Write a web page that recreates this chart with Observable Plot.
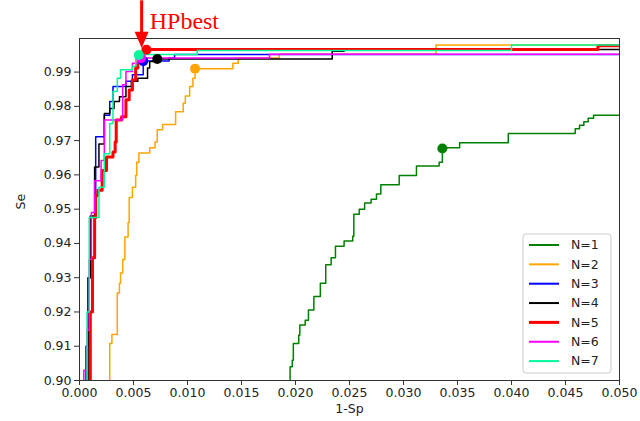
<!DOCTYPE html>
<html>
<head>
<meta charset="utf-8">
<script src="https://cdn.jsdelivr.net/npm/d3@7"></script>
<script src="https://cdn.jsdelivr.net/npm/@observablehq/plot@0.6"></script>
<style>
  html, body { margin: 0; padding: 0; background: white; }
  #chart { width: 640px; height: 421px; }
</style>
</head>
<body>
<div id="chart"></div>
<script>
// ---- Data ----
const seriesNames = ["N=1", "N=2", "N=3", "N=4", "N=5", "N=6", "N=7"];
const seriesColors = ["green", "orange", "blue", "black", "red", "magenta", "mediumspringgreen"];
const seriesWidths = [1.5, 1.5, 1.5, 1.5, 3, 1.5, 1.5];

const fprN1 = [0.0193,0.0195,0.0197,0.0198,0.0203,0.0204,0.0209,0.0212,0.0217,0.0223,0.0228,0.0233,0.0237,0.0245,0.0253,0.0254,0.0259,0.0264,0.0270,0.0275,0.0279,0.0296,0.0312,0.0333,0.0336,0.0352,0.0397,0.0459,0.0463,0.0467,0.0471,0.0476,0.0500];
const seN1  = [0.899,0.9040,0.9059,0.9108,0.9132,0.9162,0.9176,0.9206,0.9245,0.9284,0.9338,0.9358,0.9392,0.9407,0.9421,0.9485,0.9500,0.9518,0.9529,0.9544,0.9571,0.9598,0.9626,0.9637,0.9679,0.9694,0.9721,0.9735,0.9745,0.9755,0.9765,0.9774,0.9774];

const fprN2 = [0.0028,0.0028,0.0030,0.0035,0.0037,0.0038,0.0040,0.0042,0.0045,0.0046,0.0049,0.0052,0.0053,0.0055,0.0065,0.0070,0.0072,0.0077,0.0089,0.0096,0.0098,0.0102,0.0105,0.0107,0.0142,0.0147,0.0185,0.0330,0.0500];
const seN2  = [0.899,0.9108,0.9134,0.9255,0.9284,0.9314,0.9353,0.9419,0.9461,0.9534,0.9564,0.9598,0.9637,0.9664,0.9679,0.9696,0.9732,0.9747,0.9784,0.9809,0.9830,0.9858,0.9882,0.9910,0.9926,0.9941,0.9952,0.9979,0.9979];

const fprN3 = [0.0005,0.0006,0.0008,0.0010,0.0015,0.0023,0.0028,0.0031,0.0043,0.0049,0.0059,0.0083,0.0088,0.0500];
const seN3  = [0.899,0.9100,0.9300,0.9476,0.9711,0.9774,0.9814,0.9858,0.9873,0.9892,0.9932,0.9941,0.9951,0.9951];

const fprN4 = [0.0007,0.0008,0.0010,0.0014,0.0018,0.0023,0.0028,0.0032,0.0037,0.0043,0.0048,0.0054,0.0063,0.0065,0.0072,0.0234,0.0245,0.0500];
const seN4  = [0.899,0.9300,0.9480,0.9623,0.9690,0.9779,0.9794,0.9814,0.9828,0.9858,0.9873,0.9882,0.9912,0.9931,0.9938,0.9961,0.9966,0.9966];

const fprN5 = [0.0010,0.0010,0.0012,0.0014,0.0015,0.0017,0.0021,0.0025,0.0031,0.0033,0.0034,0.0039,0.0043,0.0046,0.0049,0.0052,0.0054,0.0056,0.0060,0.0480,0.0500];
const seN5  = [0.899,0.9200,0.9358,0.9475,0.9540,0.9555,0.9613,0.9652,0.9667,0.9696,0.9760,0.9770,0.9819,0.9848,0.9877,0.9912,0.9931,0.9951,0.9966,0.9977,0.9977];

const fprN6 = [0.0004,0.0004,0.0007,0.0009,0.0011,0.0014,0.0020,0.0023,0.0040,0.0043,0.0049,0.0054,0.0058,0.0176,0.0500];
const seN6  = [0.899,0.9030,0.9147,0.9353,0.9490,0.9583,0.9642,0.9760,0.9863,0.9902,0.9926,0.9936,0.9941,0.9952,0.9952];

const fprN7 = [0.0007,0.0007,0.0009,0.0018,0.0023,0.0028,0.0031,0.0035,0.0038,0.0049,0.0052,0.0055,0.0109,0.0400,0.0500];
const seN7  = [0.899,0.9200,0.9476,0.9564,0.9662,0.9750,0.9843,0.9882,0.9907,0.9917,0.9946,0.9951,0.9963,0.9979,0.9979];

const bestFpr = [0.0336,0.0107,0.0059,0.0072,0.0062,0.0057,0.0055];
const bestSe  = [0.9677,0.9910,0.9932,0.9938,0.9965,0.9941,0.9950];

const xTicks = [0,0.005,0.01,0.015,0.02,0.025,0.03,0.035,0.04,0.045,0.05];
const yTicks = [0.90,0.91,0.92,0.93,0.94,0.95,0.96,0.97,0.98,0.99];

const annotText = "HPbest";
const annotX = 0.0065, annotY = 1.0026;           // text baseline position (data units)
const arrowX = 0.0058, arrowTop = 1.0108, arrowBase = 1.0016, arrowTip = 0.9969;

// ---- Build tables ----
const fprAll = [fprN1, fprN2, fprN3, fprN4, fprN5, fprN6, fprN7];
const seAll  = [seN1, seN2, seN3, seN4, seN5, seN6, seN7];
const rows = [];
seriesNames.forEach((name, i) => {
  fprAll[i].forEach((f, j) => rows.push({series: name, fpr: f, se: seAll[i][j]}));
});
const best = seriesNames.map((name, i) => ({series: name, fpr: bestFpr[i], se: bestSe[i]}));
const colorOf = Object.fromEntries(seriesNames.map((n, i) => [n, seriesColors[i]]));

const lineMarks = seriesNames.map((name, i) =>
  Plot.line(rows.filter(d => d.series === name), {
    x: "fpr", y: "se", curve: "step-after",
    stroke: seriesColors[i], strokeWidth: seriesWidths[i], clip: true
  })
);

const plot = Plot.plot({
  width: 640, height: 421,
  marginLeft: 79, marginRight: 21, marginTop: 38, marginBottom: 41,
  style: {fontFamily: "'DejaVu Sans', sans-serif", fontSize: "12.5px", color: "#222", background: "white", overflow: "visible"},
  x: {domain: [0, 0.05], label: null},
  y: {domain: [0.9, 0.9998], label: null},
  marks: [
    Plot.axisX({ticks: xTicks, tickFormat: d3.format(".3f"), tickSize: 5, tickPadding: 3, label: null, stroke: "#333"}),
    Plot.axisY({ticks: yTicks, tickFormat: d3.format(".2f"), tickSize: 5, tickPadding: 3, label: null, stroke: "#333"}),
    ...lineMarks,
    Plot.dot(best, {x: "fpr", y: "se", fill: d => colorOf[d.series], r: 5, stroke: "none"}),
    Plot.frame({stroke: "#333", strokeWidth: 1}),
    Plot.text([annotText], {x: () => annotX, y: () => annotY, text: d => d, textAnchor: "start", lineAnchor: "bottom",
      fill: "red", fontSize: 24, fontFamily: "'Liberation Serif', 'Times New Roman', serif"}),
    Plot.text(["1-Sp"], {frameAnchor: "bottom", dy: 32, text: d => d, fill: "#222"}),
    Plot.text(["Se"], {frameAnchor: "left", dx: -59, rotate: -90, text: d => d, fill: "#222"})
  ]
});

document.getElementById("chart").appendChild(plot);

// ---- Arrow annotation and legend drawn with the plot's scales ----
const sx = plot.scale("x"), sy = plot.scale("y");
const svg = d3.select(plot);
const ax = sx.apply(arrowX);
svg.append("line")
  .attr("x1", ax).attr("x2", ax)
  .attr("y1", sy.apply(arrowTop)).attr("y2", sy.apply(arrowBase) + 2)
  .attr("stroke", "red").attr("stroke-width", 3);
svg.append("path")
  .attr("d", `M${ax - 7},${sy.apply(arrowBase)}L${ax + 7},${sy.apply(arrowBase)}L${ax},${sy.apply(arrowTip)}Z`)
  .attr("fill", "red");

const [fx0, fx1] = sx.range;
const [fy0] = sy.range; // bottom
const lgW = 88, lgH = 139, rowH = 19.35;
const lgX = fx1 - 8 - lgW, lgY = fy0 - 7 - lgH;
const lg = svg.append("g").attr("transform", `translate(${lgX},${lgY})`)
  .attr("text-anchor", "start");
lg.append("rect").attr("width", lgW).attr("height", lgH).attr("rx", 3)
  .attr("fill", "white").attr("fill-opacity", 0.85).attr("stroke", "#cccccc");
seriesNames.forEach((name, i) => {
  const y = 11 + i * rowH;
  lg.append("line").attr("x1", 6).attr("x2", 36).attr("y1", y).attr("y2", y)
    .attr("stroke", seriesColors[i]).attr("stroke-width", seriesWidths[i] === 3 ? 3 : 2);
  lg.append("text").attr("x", 48).attr("y", y).attr("dy", "0.35em")
    .attr("text-anchor", "start")
    .attr("fill", "#222").attr("font-size", "12.5px").text(name);
});
</script>
</body>
</html>
